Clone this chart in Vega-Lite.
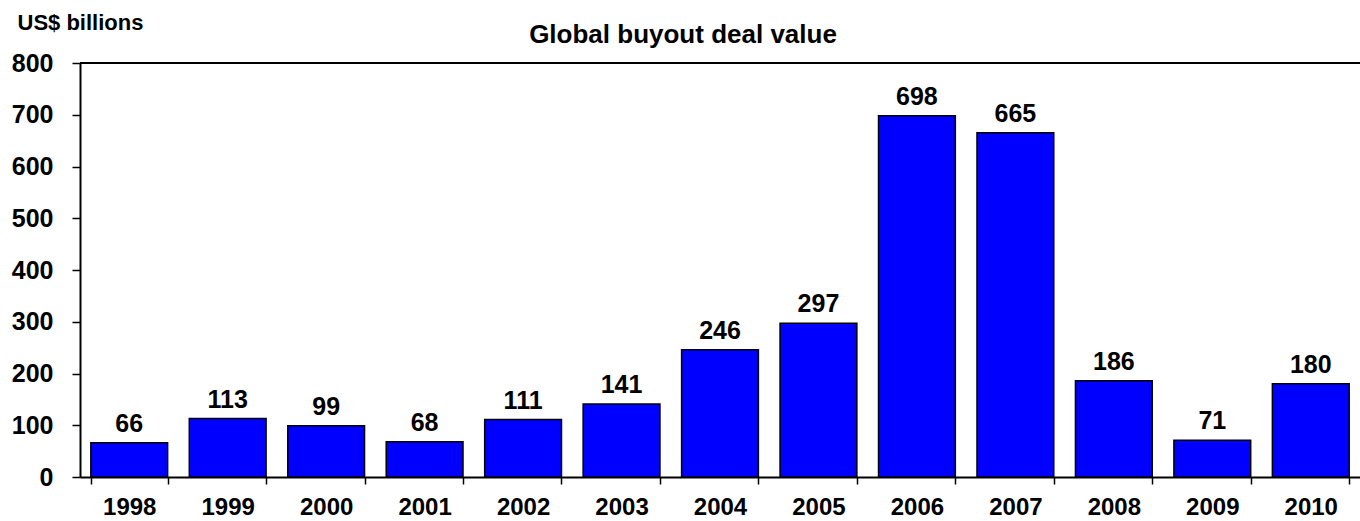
{
  "$schema": "https://vega.github.io/schema/vega-lite/v6.json",
  "autosize": "none",
  "width": 1280,
  "height": 414,
  "padding": {"left": 80, "top": 63, "right": 0, "bottom": 44},
  "background": "white",
  "config": {
    "view": {"stroke": null},
    "font": "Liberation Sans"
  },
  "title": {
    "text": "Global buyout deal value",
    "font": "Liberation Sans",
    "fontSize": 26,
    "fontWeight": "bold",
    "color": "black",
    "anchor": "middle",
    "frame": "group",
    "baseline": "alphabetic",
    "offset": 21,
    "dx": -37,
    "dy": 79
  },
  "data": {
    "values": [
      {"year": "1998", "value": 66},
      {"year": "1999", "value": 113},
      {"year": "2000", "value": 99},
      {"year": "2001", "value": 68},
      {"year": "2002", "value": 111},
      {"year": "2003", "value": 141},
      {"year": "2004", "value": 246},
      {"year": "2005", "value": 297},
      {"year": "2006", "value": 698},
      {"year": "2007", "value": 665},
      {"year": "2008", "value": 186},
      {"year": "2009", "value": 71},
      {"year": "2010", "value": 180}
    ]
  },
  "encoding": {
    "x": {
      "field": "year",
      "type": "nominal",
      "sort": null,
      "scale": {"paddingInner": 0.22, "paddingOuter": 0.11},
      "axis": {
        "title": null,
        "labelAngle": 0,
        "labelFont": "Liberation Sans",
        "labelFontSize": 24,
        "labelFontWeight": "bold",
        "labelColor": "black",
        "labelPadding": 11,
        "tickBand": "extent",
        "tickSize": 7,
        "tickColor": "black",
        "tickWidth": 1.5,
        "domainColor": "black",
        "domainWidth": 2
      }
    },
    "y": {
      "field": "value",
      "type": "quantitative",
      "scale": {"domain": [0, 800], "nice": false},
      "axis": {
        "values": [0, 100, 200, 300, 400, 500, 600, 700, 800],
        "grid": false,
        "title": "US$ billions",
        "titleAngle": 0,
        "titleAlign": "left",
        "titleBaseline": "alphabetic",
        "titleX": -63,
        "titleY": -34,
        "titleFont": "Liberation Sans",
        "titleFontSize": 22,
        "titleFontWeight": "bold",
        "titleColor": "black",
        "labelFont": "Liberation Sans",
        "labelFontSize": 25,
        "labelFontWeight": "bold",
        "labelColor": "black",
        "labelPadding": 19,
        "tickSize": 8,
        "tickColor": "black",
        "tickWidth": 1.5,
        "domainColor": "black",
        "domainWidth": 2
      }
    }
  },
  "layer": [
    {
      "mark": {"type": "bar", "color": "#0000FF", "stroke": "black", "strokeWidth": 1.5}
    },
    {
      "mark": {"type": "text", "baseline": "alphabetic", "dy": -11, "font": "Liberation Sans", "fontSize": 25, "fontWeight": "bold", "color": "black"},
      "encoding": {"text": {"field": "value", "type": "quantitative"}}
    },
    {
      "mark": {"type": "rule", "color": "black", "strokeWidth": 2},
      "encoding": {"y": {"datum": 800}, "x": null}
    }
  ]
}
